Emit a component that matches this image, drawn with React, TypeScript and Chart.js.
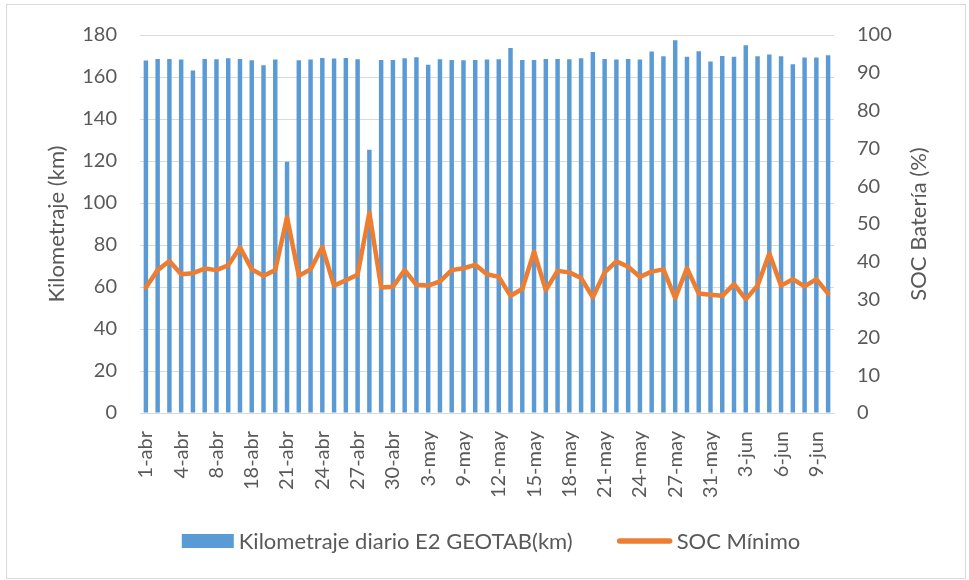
import React, { useEffect, useRef } from "react";
import { Chart, registerables } from "chart.js";

Chart.register(...registerables);

const categories: string[] = [
  "1-abr", "2-abr", "3-abr", "4-abr", "5-abr", "7-abr", "8-abr", "9-abr", "17-abr", "18-abr",
  "19-abr", "20-abr", "21-abr", "22-abr", "23-abr", "24-abr", "25-abr", "26-abr", "27-abr", "28-abr",
  "29-abr", "30-abr", "1-may", "2-may", "3-may", "7-may", "8-may", "9-may", "10-may", "11-may",
  "12-may", "13-may", "14-may", "15-may", "16-may", "17-may", "18-may", "19-may", "20-may", "21-may",
  "22-may", "23-may", "24-may", "25-may", "26-may", "27-may", "28-may", "29-may", "31-may", "1-jun",
  "2-jun", "3-jun", "4-jun", "5-jun", "6-jun", "7-jun", "8-jun", "9-jun", "10-jun",
];

const kilometraje: number[] = [
  167.8, 168.6, 168.6, 168.3, 163.1, 168.6, 168.5, 168.9, 168.6, 168.0,
  165.6, 168.3, 119.7, 168.0, 168.3, 169.1, 168.8, 169.1, 168.5, 125.4,
  168.1, 168.1, 168.9, 169.4, 165.8, 168.5, 168.1, 168.0, 168.1, 168.3,
  168.5, 173.8, 168.1, 168.1, 168.6, 168.6, 168.5, 168.9, 171.9, 168.6,
  168.3, 168.6, 168.3, 172.1, 169.9, 177.5, 169.6, 172.3, 167.4, 170.0,
  169.6, 175.1, 169.9, 170.7, 169.9, 166.1, 169.3, 169.3, 170.4,
];

const socMinimo: number[] = [
  33.2, 37.8, 40.2, 36.7, 37.0, 38.2, 37.8, 39.1, 43.8, 38.0,
  36.3, 37.8, 51.8, 36.3, 38.0, 43.9, 33.7, 35.1, 36.6, 53.0,
  33.2, 33.4, 37.8, 33.9, 33.7, 34.8, 37.8, 38.3, 39.2, 36.7,
  36.0, 31.0, 32.8, 42.7, 32.5, 37.6, 37.2, 35.7, 30.6, 37.2,
  40.1, 38.7, 36.0, 37.4, 38.0, 30.4, 38.3, 31.6, 31.3, 31.0,
  34.1, 30.1, 33.7, 42.2, 33.7, 35.4, 33.5, 35.4, 31.6,
];

const seriesNames: string[] = ["Kilometraje diario E2 GEOTAB(km)", "SOC Mínimo"];
const axisTitles: string[] = ["Kilometraje (km)", "SOC Batería (%)"];
const tickEvery = 3;

const FONT = "Lato, 'Open Sans', sans-serif";
const TEXT = "#595959";
const GRID = "#D9D9D9";
const BLUE = "#5B9BD5";
const ORANGE = "#ED7D31";

export default function App() {
  const canvasRef = useRef<HTMLCanvasElement | null>(null);

  useEffect(() => {
    if (!canvasRef.current) return;

    const extras = {
      id: "extras",
      afterDraw(chart: any) {
        const { ctx, chartArea } = chart;
        // right axis title (reads bottom-to-top like the left one)
        ctx.save();
        ctx.translate(919, (chartArea.top + chartArea.bottom) / 2);
        ctx.rotate(-Math.PI / 2);
        ctx.font = `22px ${FONT}`;
        ctx.fillStyle = TEXT;
        ctx.textAlign = "center";
        ctx.textBaseline = "middle";
        ctx.fillText(axisTitles[1], 0, 0);
        ctx.restore();

        // legend
        ctx.save();
        ctx.font = `22px ${FONT}`;
        const ds = chart.data.datasets;
        const t1 = ctx.measureText(ds[0].label).width;
        const t2 = ctx.measureText(ds[1].label).width;
        const boxW = 52, gapT = 5, gapItem = 44, lineW = 56, gapT2 = 4;
        const total = boxW + gapT + t1 + gapItem + lineW + gapT2 + t2;
        const cy = 541;
        let x = 491 - total / 2;
        ctx.fillStyle = ds[0].backgroundColor;
        ctx.fillRect(x, cy - 7, boxW, 14);
        x += boxW + gapT;
        ctx.fillStyle = TEXT;
        ctx.textAlign = "left";
        ctx.textBaseline = "middle";
        ctx.fillText(ds[0].label, x, cy + 1);
        x += t1 + gapItem;
        ctx.strokeStyle = ds[1].borderColor;
        ctx.lineWidth = 5.5;
        ctx.lineCap = "round";
        ctx.beginPath();
        ctx.moveTo(x + 3, cy);
        ctx.lineTo(x + lineW - 3, cy);
        ctx.stroke();
        x += lineW + gapT2;
        ctx.fillText(ds[1].label, x, cy + 1);
        ctx.restore();
      },
    };

    const chart = new Chart(canvasRef.current, {
      type: "bar",
      data: {
        labels: categories,
        datasets: [
          {
            type: "bar",
            label: seriesNames[0],
            data: kilometraje,
            backgroundColor: BLUE,
            borderWidth: 0,
            barPercentage: 1,
            categoryPercentage: 0.38,
            yAxisID: "y",
            order: 1,
          },
          {
            type: "line",
            label: seriesNames[1],
            data: socMinimo,
            borderColor: ORANGE,
            backgroundColor: ORANGE,
            borderWidth: 4.5,
            pointRadius: 0,
            tension: 0,
            borderJoinStyle: "round",
            borderCapStyle: "round",
            yAxisID: "y1",
            order: 0,
          } as any,
        ],
      },
      options: {
        animation: false,
        responsive: false,
        maintainAspectRatio: false,
        layout: { padding: { top: 33, left: 13, right: 0, bottom: 57 } },
        plugins: {
          tooltip: { enabled: false },
          legend: { display: false },
        },
        scales: {
          x: {
            type: "category",
            offset: true,
            grid: { display: false, drawTicks: false },
            border: { display: true, color: GRID, width: 1 },
            ticks: {
              autoSkip: false,
              minRotation: 90,
              maxRotation: 90,
              padding: 18,
              color: TEXT,
              font: { family: FONT, size: 20 },
              callback: (_v: any, i: number) => (i % tickEvery === 0 ? categories[i] : ""),
            },
            afterFit: (s: any) => {
              s.height = 110;
            },
          },
          y: {
            position: "left",
            min: 0,
            max: 180,
            grid: { color: GRID, lineWidth: 1, drawTicks: false },
            border: { display: false },
            ticks: {
              stepSize: 20,
              padding: 23,
              color: TEXT,
              font: { family: FONT, size: 20 },
            },
            title: {
              display: true,
              text: axisTitles[0],
              color: TEXT,
              font: { family: FONT, size: 22 },
              padding: { top: 31, bottom: 0 },
            },
            afterFit: (s: any) => {
              s.width = 127;
            },
          },
          y1: {
            position: "right",
            min: 0,
            max: 100,
            grid: { drawOnChartArea: false, drawTicks: false },
            border: { display: false },
            ticks: {
              stepSize: 10,
              padding: 23,
              color: TEXT,
              font: { family: FONT, size: 20 },
            },
            afterFit: (s: any) => {
              s.width = 135;
            },
          },
        },
      },
      plugins: [extras],
    });

    return () => chart.destroy();
  }, []);

  return (
    <div style={{ position: "fixed", left: 0, top: 0, width: 969, height: 580, background: "#fff" }}>
      <div
        style={{
          position: "absolute",
          left: 6,
          top: 4,
          width: 960,
          height: 575,
          border: `1px solid ${GRID}`,
          boxSizing: "border-box",
        }}
      />
      <canvas
        ref={canvasRef}
        width={969}
        height={580}
        style={{ position: "absolute", left: 0, top: 0, width: 969, height: 580 }}
      />
    </div>
  );
}
